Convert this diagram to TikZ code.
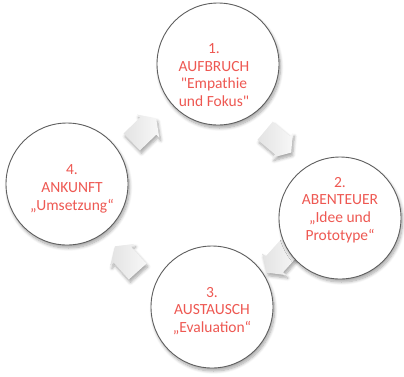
\documentclass[tikz,border=0pt]{standalone}
\usepackage{fontspec}
\setmainfont{Carlito}[Ligatures=TeXOff]
\usetikzlibrary{shapes.arrows,shadows.blur}
\definecolor{txtred}{RGB}{238,88,82}
\definecolor{ringgray}{RGB}{95,95,95}
\tikzset{
  stage/.style={circle, draw=ringgray, line width=0.9pt, fill=white, minimum size=122pt, inner sep=0pt,
    blur shadow={shadow blur steps=8, shadow xshift=1.5pt, shadow yshift=-3pt, shadow opacity=35, shadow blur radius=3pt}},
  stagetext/.style={text=txtred, align=center, font=\fontsize{15.5}{17.7}\selectfont, inner sep=0pt},
  cyclearrow/.style={single arrow, draw=none, inner xsep=0pt, inner ysep=11pt, minimum width=32pt, minimum height=34pt,
    single arrow head extend=4pt, single arrow tip angle=110,
    left color=gray!22, right color=gray!6,
    blur shadow={shadow blur steps=6, shadow xshift=1.5pt, shadow yshift=-3pt, shadow opacity=35, shadow blur radius=3pt}}
}
\begin{document}
\begin{tikzpicture}[x=1pt,y=-1pt]
\useasboundingbox (0,0) rectangle (404,376);
% arrows (behind circles)
\node[cyclearrow, rotate=44] (a41) at (141,133) {};
\node[cyclearrow, rotate=-40] (a12) at (275,139) {};
\node[cyclearrow, rotate=-132] (a23) at (281,257) {};
\node[cyclearrow, rotate=132] (a34) at (129,262) {};
% circles
\node[stage] (c1) at (218,64) {};
\node[stage] (c2) at (340,218) {};
\node[stage] (c3) at (212,307) {};
\node[stage] (c4) at (67,184) {};
% texts
\node[stagetext] (t1) at (214,75) {1.\\AUFBRUCH\\"Empathie\\und Fokus"};
\node[stagetext] (t2) at (340,210) {2.\\ABENTEUER\\„Idee und\\Prototype“};
\node[stagetext] (t3) at (212,311) {3.\\AUSTAUSCH\\„Evaluation“};
\node[stagetext] (t4) at (72,189) {4.\\ANKUNFT\\„Umsetzung“};
\end{tikzpicture}
\end{document}
